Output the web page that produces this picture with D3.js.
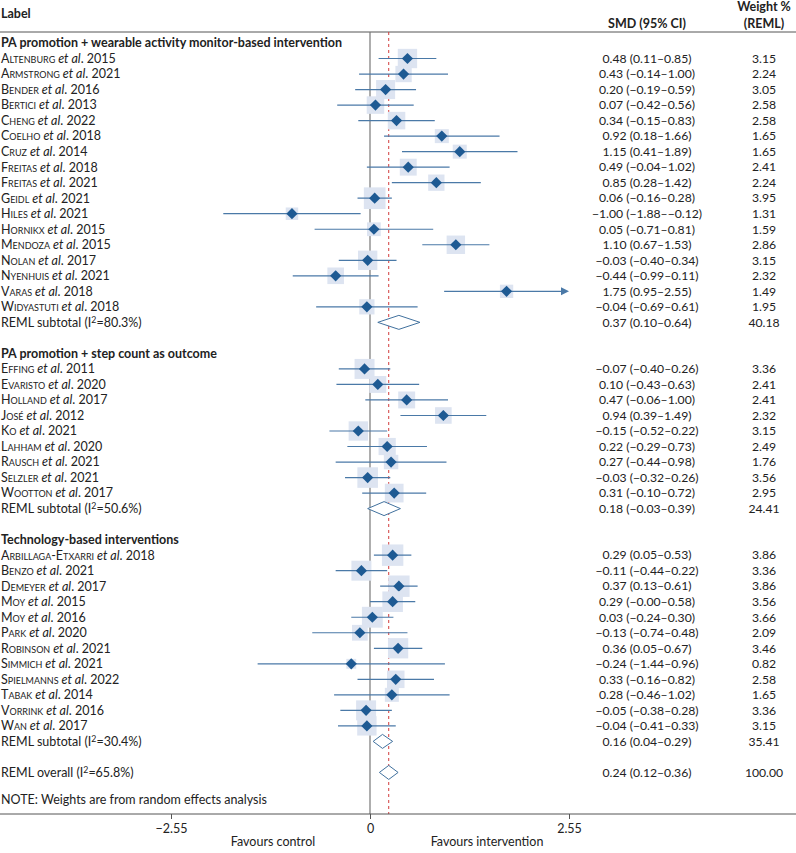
<!DOCTYPE html>
<html>
<head>
<meta charset="utf-8">
<script src="https://cdn.jsdelivr.net/npm/d3@7"></script>
<style>
  html, body { margin: 0; padding: 0; background: #fff; }
  svg { display: block; }
  text { font-family: Lato, "Noto Sans", sans-serif; fill: #222; }
</style>
</head>
<body>
<div id="chart"></div>
<script>
// ---------- data ----------
const groupTitles = [
  "PA promotion + wearable activity monitor-based intervention",
  "PA promotion + step count as outcome",
  "Technology-based interventions"
];
const studyAuthors = [
  "Altenburg","Armstrong","Bender","Bertici","Cheng","Coelho","Cruz","Freitas","Freitas","Geidl","Hiles","Hornikx","Mendoza","Nolan","Nyenhuis","Varas","Widyastuti",
  "Effing","Evaristo","Holland","José","Ko","Lahham","Rausch","Selzler","Wootton",
  "Arbillaga-Etxarri","Benzo","Demeyer","Moy","Moy","Park","Robinson","Simmich","Spielmanns","Tabak","Vorrink","Wan"
];
const studyYears = [
  2015,2021,2016,2013,2022,2018,2014,2018,2021,2021,2021,2015,2015,2017,2021,2018,2018,
  2011,2020,2017,2012,2021,2020,2021,2021,2017,
  2018,2021,2017,2015,2016,2020,2021,2021,2022,2014,2016,2017
];
const studyGroup = [
  0,0,0,0,0,0,0,0,0,0,0,0,0,0,0,0,0,
  1,1,1,1,1,1,1,1,1,
  2,2,2,2,2,2,2,2,2,2,2,2
];
const studySMD = [
  0.48,0.43,0.20,0.07,0.34,0.92,1.15,0.49,0.85,0.06,-1.00,0.05,1.10,-0.03,-0.44,1.75,-0.04,
  -0.07,0.10,0.47,0.94,-0.15,0.22,0.27,-0.03,0.31,
  0.29,-0.11,0.37,0.29,0.03,-0.13,0.36,-0.24,0.33,0.28,-0.05,-0.04
];
const studyLower = [
  0.11,-0.14,-0.19,-0.42,-0.15,0.18,0.41,-0.04,0.28,-0.16,-1.88,-0.71,0.67,-0.40,-0.99,0.95,-0.69,
  -0.40,-0.43,-0.06,0.39,-0.52,-0.29,-0.44,-0.32,-0.10,
  0.05,-0.44,0.13,-0.00,-0.24,-0.74,0.05,-1.44,-0.16,-0.46,-0.38,-0.41
];
const studyUpper = [
  0.85,1.00,0.59,0.56,0.83,1.66,1.89,1.02,1.42,0.28,-0.12,0.81,1.53,0.34,0.11,2.55,0.61,
  0.26,0.63,1.00,1.49,0.22,0.73,0.98,0.26,0.72,
  0.53,0.22,0.61,0.58,0.30,0.48,0.67,0.96,0.82,1.02,0.28,0.33
];
const studyWeight = [
  3.15,2.24,3.05,2.58,2.58,1.65,1.65,2.41,2.24,3.95,1.31,1.59,2.86,3.15,2.32,1.49,1.95,
  3.36,2.41,2.41,2.32,3.15,2.49,1.76,3.56,2.95,
  3.86,3.36,3.86,3.56,3.66,2.09,3.46,0.82,2.58,1.65,3.36,3.15
];
const subtotalI2 = ["80.3%","50.6%","30.4%"];
const subtotalSMD = [0.37,0.18,0.16];
const subtotalLower = [0.10,-0.03,0.04];
const subtotalUpper = [0.64,0.39,0.29];
const subtotalWeight = ["40.18","24.41","35.41"];
const overallI2 = "65.8%";
const overallSMD = 0.24, overallLower = 0.12, overallUpper = 0.36, overallWeight = "100.00";
const axisTicks = [-2.55, 0, 2.55];
const axisTickLabels = ["\u22122.55", "0", "2.55"];

// ---------- layout ----------
const W = 796, H = 853;
const rowY0 = 43, rowH = 15.52;
const topLineY = 32, axisY = 814;
const smdX = 647, wtX = 764;
const blue = "#1e5a93", ciCol = "#4a79a7", sqCol = "#dde4f1";

const x = d3.scaleLinear().domain([-2.55, 2.55]).range([171, 569]);

const svg = d3.select("#chart").append("svg").attr("width", W).attr("height", H);

const isNeg = v => v < 0 || Object.is(v, -0);
const fmt = v => (isNeg(v) ? "\u2212" : "") + Math.abs(v).toFixed(2);
const ciText = (m, l, u) => `${fmt(m)} (${fmt(l)}\u2013${fmt(u)})`;

// build rows
const rows = [];
let idx = 0;
for (let g = 0; g < groupTitles.length; g++) {
  rows.push({type: "header", text: groupTitles[g], r: idx++});
  studyAuthors.forEach((a, i) => {
    if (studyGroup[i] !== g) return;
    rows.push({type: "study", author: a, year: studyYears[i], m: studySMD[i], l: studyLower[i], u: studyUpper[i], w: studyWeight[i], r: idx++});
  });
  rows.push({type: "sub", i2: subtotalI2[g], m: subtotalSMD[g], l: subtotalLower[g], u: subtotalUpper[g], w: subtotalWeight[g], r: idx++});
  idx++; // blank
}
rows.push({type: "overall", i2: overallI2, m: overallSMD, l: overallLower, u: overallUpper, w: overallWeight, r: idx++});
const yOf = r => rowY0 + r * rowH;

// ---------- headers ----------
svg.append("text").attr("x", 1).attr("y", 18).attr("font-size", 12.5).attr("font-weight", 700).text("Label");
svg.append("text").attr("x", smdX).attr("y", 28).attr("text-anchor", "middle").attr("font-size", 12.5).attr("font-weight", 700).text("SMD (95% CI)");
svg.append("text").attr("x", wtX).attr("y", 11).attr("text-anchor", "middle").attr("font-size", 12.5).attr("font-weight", 700).text("Weight %");
svg.append("text").attr("x", wtX).attr("y", 28).attr("text-anchor", "middle").attr("font-size", 12.5).attr("font-weight", 700).text("(REML)");

svg.append("line").attr("x1", 0).attr("x2", W).attr("y1", topLineY).attr("y2", topLineY).attr("stroke", "#555").attr("stroke-width", 1);

// reference lines
svg.append("line").attr("x1", x(0)).attr("x2", x(0)).attr("y1", topLineY).attr("y2", axisY).attr("stroke", "#777").attr("stroke-width", 1.2);
svg.append("line").attr("x1", x(overallSMD)).attr("x2", x(overallSMD)).attr("y1", topLineY).attr("y2", axisY)
  .attr("stroke", "#d23c3c").attr("stroke-width", 1).attr("stroke-dasharray", "3,3");

// ---------- rows ----------
const fs = 12.5, nfs = 12.2;
rows.forEach(d => {
  const y = yOf(d.r);
  if (d.type === "header") {
    svg.append("text").attr("x", 1).attr("y", y).attr("dy", "0.35em").attr("font-size", fs).attr("font-weight", 700).text(d.text);
    return;
  }
  // label
  const t = svg.append("text").attr("x", 1).attr("y", y).attr("dy", "0.35em").attr("font-size", fs);
  if (d.type === "study") {
    t.append("tspan").style("font-variant", "small-caps").text(d.author);
    t.append("tspan").attr("font-style", "italic").text(" et al");
    t.append("tspan").text(". " + d.year);
  } else {
    const lab = d.type === "sub" ? "REML subtotal (I" : "REML overall (I";
    t.append("tspan").text(lab);
    t.append("tspan").attr("font-size", fs * 0.7).attr("dy", "-0.45em").text("2");
    t.append("tspan").attr("dy", "0.3em").text("=" + d.i2 + ")");
  }
  // numbers
  svg.append("text").attr("x", smdX).attr("y", y).attr("dy", "0.35em").attr("text-anchor", "middle").attr("font-size", nfs).text(ciText(d.m, d.l, d.u));
  svg.append("text").attr("x", wtX).attr("y", y).attr("dy", "0.35em").attr("text-anchor", "middle").attr("font-size", nfs)
    .text(d.type === "study" ? d.w.toFixed(2) : d.w);

  if (d.type === "study") {
    const side = 10.9 * Math.sqrt(d.w);
    svg.append("rect").attr("x", x(d.m) - side / 2).attr("y", y - side / 2).attr("width", side).attr("height", side).attr("fill", sqCol);
    const hiX = x(Math.min(d.u, 2.55));
    const arrow = d.u >= 2.55;
    svg.append("line").attr("x1", x(Math.max(d.l, -2.55))).attr("x2", arrow ? hiX - 6 : hiX).attr("y1", y).attr("y2", y)
      .attr("stroke", ciCol).attr("stroke-width", 1.2);
    if (arrow) {
      svg.append("path").attr("d", `M${hiX},${y} L${hiX - 8},${y - 4} L${hiX - 8},${y + 4} Z`).attr("fill", ciCol);
    }
    const hw = 5.6, hh = 5.6, cx = x(d.m);
    svg.append("path").attr("d", `M${cx - hw},${y} L${cx},${y - hh} L${cx + hw},${y} L${cx},${y + hh} Z`).attr("fill", blue);
  } else {
    const hh = 7;
    svg.append("path")
      .attr("d", `M${x(d.l)},${y} L${x(d.m)},${y - hh} L${x(d.u)},${y} L${x(d.m)},${y + hh} Z`)
      .attr("fill", "#fff").attr("stroke", "#41719e").attr("stroke-width", 1);
  }
});

// note
svg.append("text").attr("x", 1).attr("y", 800).attr("dy", "0.35em").attr("font-size", fs).text("NOTE: Weights are from random effects analysis");

// ---------- axis ----------
svg.append("line").attr("x1", 0).attr("x2", W).attr("y1", axisY).attr("y2", axisY).attr("stroke", "#555").attr("stroke-width", 1);
const axis = d3.axisBottom(x).tickValues(axisTicks).tickSize(5).tickFormat((d, i) => axisTickLabels[i]);
const ax = svg.append("g").attr("transform", `translate(0,${axisY})`).call(axis);
ax.select(".domain").remove();
ax.selectAll(".tick line").attr("stroke", "#555");
ax.selectAll(".tick text").attr("font-size", fs).attr("font-family", "Lato, sans-serif").attr("fill", "#222").attr("dy", "0.9em");

svg.append("text").attr("x", 273).attr("y", 846).attr("text-anchor", "middle").attr("font-size", fs).text("Favours control");
svg.append("text").attr("x", 487).attr("y", 846).attr("text-anchor", "middle").attr("font-size", fs).text("Favours intervention");
</script>
</body>
</html>
